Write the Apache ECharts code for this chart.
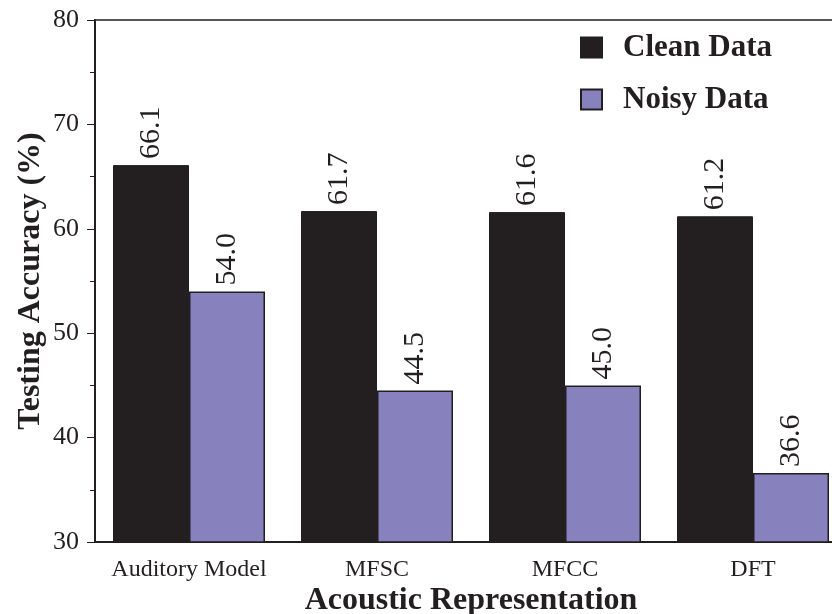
<!DOCTYPE html>
<html>
<head>
<meta charset="utf-8">
<script src="https://cdn.jsdelivr.net/npm/echarts@6/dist/echarts.min.js"></script>
<style>html,body{margin:0;padding:0;background:#fff}#c{width:832px;height:614px}</style>
</head>
<body>
<div id="c"></div>
<script>
const categories = ['Auditory Model', 'MFSC', 'MFCC', 'DFT'];
const cleanData = [66.1, 61.7, 61.6, 61.2];
const noisyData = [54.0, 44.5, 45.0, 36.6];
const seriesNames = ['Clean Data', 'Noisy Data'];

const FONT = '"Liberation Serif", "Times New Roman", serif';
const DARK = '#231f20';
const chart = echarts.init(document.getElementById('c'), null, {renderer: 'canvas'});

const labelCfg = {
  show: true, position: 'top', rotate: 90, align: 'left', verticalAlign: 'middle',
  distance: 6, fontFamily: FONT, fontSize: 30, color: DARK,
  formatter: p => p.value.toFixed(1)
};

chart.setOption({
  animation: false,
  backgroundColor: '#fff',
  grid: {left: 95, top: 20, width: 752, height: 522, outerBoundsMode: 'none', containLabel: false,
         show: true, borderColor: DARK, borderWidth: 1.5, backgroundColor: 'transparent'},
  legend: {
    orient: 'vertical', left: 580, top: 32, padding: 0, itemWidth: 21, itemHeight: 20, itemGap: 21,
    icon: 'rect',
    textStyle: {fontFamily: FONT, fontSize: 31, fontWeight: 'bold', color: DARK, padding: [0, 0, 0, 16]},
    data: seriesNames
  },
  xAxis: {
    type: 'category', data: categories,
    axisLine: {lineStyle: {color: DARK, width: 2}},
    axisTick: {show: false},
    axisLabel: {fontFamily: FONT, fontSize: 24, color: DARK, margin: 16, interval: 0},
    name: 'Acoustic Representation', nameLocation: 'middle', nameGap: 43, nameMoveOverlap: false,
    nameTextStyle: {fontFamily: FONT, fontSize: 32, fontWeight: 'bold', color: DARK}
  },
  yAxis: {
    type: 'value', min: 30, max: 80, interval: 10,
    axisLine: {show: true, lineStyle: {color: DARK, width: 2}},
    axisTick: {show: true, length: 8, lineStyle: {color: DARK, width: 1}},
    minorTick: {show: true, splitNumber: 2, length: 5, lineStyle: {color: DARK, width: 1}},
    splitLine: {show: false},
    axisLabel: {fontFamily: FONT, fontSize: 26, color: DARK, margin: 16},
    name: 'Testing Accuracy (%)', nameLocation: 'middle', nameRotate: 90, nameGap: 48, nameMoveOverlap: false,
    nameTextStyle: {fontFamily: FONT, fontSize: 32, fontWeight: 'bold', color: DARK}
  },
  series: [
    {name: seriesNames[0], type: 'bar', data: cleanData, barWidth: 76, barGap: '0%',
     itemStyle: {color: DARK, borderColor: DARK, borderWidth: 1}, label: labelCfg},
    {name: seriesNames[1], type: 'bar', data: noisyData, barWidth: 76,
     itemStyle: {color: '#8781bd', borderColor: DARK, borderWidth: 1.5}, label: labelCfg}
  ]
});
</script>
</body>
</html>
